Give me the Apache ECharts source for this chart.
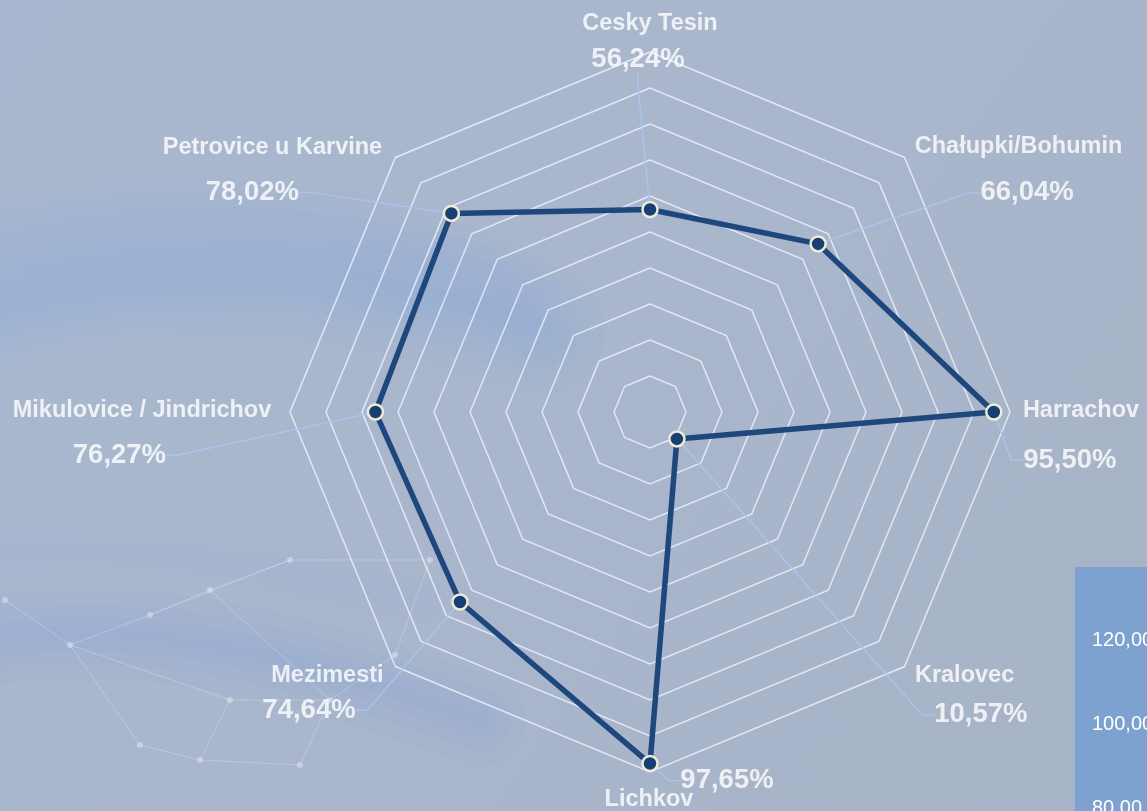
<!DOCTYPE html>
<html>
<head>
<meta charset="utf-8">
<script src="https://cdn.jsdelivr.net/npm/echarts@6/dist/echarts.min.js"></script>
<style>
  html, body { margin: 0; padding: 0; }
  #radar1 { width: 1147px; height: 811px; }
</style>
</head>
<body>
<div id="radar1"></div>
<script type="text/javascript">
var categories = ['Cesky Tesin', 'Chałupki/Bohumin', 'Harrachov', 'Kralovec', 'Lichkov', 'Mezimesti', 'Mikulovice / Jindrichov', 'Petrovice u Karvine'];
var values = [56.24, 66.04, 95.50, 10.57, 97.65, 74.64, 76.27, 78.02];
var maxValue = 100;
var sideTicks = ['120,00', '100,00', '80,00'];   // axis of the next chart, cut off at the right

// where the labels sit, in px, relative to their point (values) or outer corner (names)
var valueShift = [[-12, -150], [209, -51], [76, 48], [304, 276], [77, 17], [-151, 108], [-256, 43], [-199, -21]];
var nameShift = [[0, -28], [114, -11], [71, -1], [60, 9], [-1, 28], [-68, 9], [-148, -1], [-123, -10]];

// radar goes counter-clockwise, the picture goes clockwise
var radarOrder = [0, 7, 6, 5, 4, 3, 2, 1];
var center = [650, 412], radius = 360;
var font = '"Liberation Sans", Arial, sans-serif';

function pct(v) {
    return v.toFixed(2).replace('.', ',') + '%';
}

var myChart1 = echarts.init(document.getElementById('radar1'));

// background picture: soft blue swooshes + faint network
var bg = [
    { type: 'rect', z: -10, shape: { x: 0, y: 0, width: 1147, height: 811 },
      style: { fill: new echarts.graphic.LinearGradient(0, 0, 1, 1, [
          { offset: 0, color: '#a9b8d0' },
          { offset: 0.5, color: '#a9b6cb' },
          { offset: 1, color: '#a7b3c7' }
      ]) } }
];
function swoosh(shape, rgb, widths, alpha) {
    widths.forEach(function (w) {
        bg.push({ type: 'bezierCurve', z: -9, shape: shape,
            style: { stroke: 'rgba(' + rgb + ',' + alpha + ')', lineWidth: w, fill: null, lineCap: 'round' } });
    });
}
swoosh({ x1: -60, y1: 320, cpx1: 120, cpy1: 255, cpx2: 330, cpy2: 255, x2: 540, y2: 330 }, '120,155,225', [130, 100, 75, 55, 35, 18], 0.045);
swoosh({ x1: -60, y1: 250, cpx1: 200, cpy1: 190, cpx2: 380, cpy2: 220, x2: 520, y2: 290 }, '140,170,230', [80, 50, 25], 0.045);
swoosh({ x1: -60, y1: 650, cpx1: 120, cpy1: 610, cpx2: 280, cpy2: 650, x2: 480, y2: 720 }, '125,160,230', [90, 60, 35, 15], 0.05);
swoosh({ x1: -60, y1: 560, cpx1: 100, cpy1: 540, cpx2: 260, cpy2: 560, x2: 420, y2: 600 }, '150,180,235', [50, 25], 0.05);

var net = [[5, 600], [70, 645], [150, 615], [210, 590], [230, 700], [200, 760], [140, 745], [300, 765], [330, 700], [395, 655], [430, 560], [290, 560]];
var links = [[0, 1], [1, 2], [2, 3], [1, 4], [4, 5], [5, 6], [6, 1], [4, 8], [8, 9], [9, 10], [10, 11], [11, 3], [3, 8], [5, 7], [7, 8], [11, 2]];
links.forEach(function (l) {
    bg.push({ type: 'line', z: -9, shape: { x1: net[l[0]][0], y1: net[l[0]][1], x2: net[l[1]][0], y2: net[l[1]][1] },
        style: { stroke: 'rgba(230,238,252,0.3)', lineWidth: 1 } });
});
net.forEach(function (p) {
    bg.push({ type: 'circle', z: -9, shape: { cx: p[0], cy: p[1], r: 3 }, style: { fill: 'rgba(235,240,250,0.45)' } });
});
bg.push({ type: 'rect', z: -8, shape: { x: 1075, y: 567, width: 90, height: 260 }, style: { fill: '#7ea2d0' } });
sideTicks.forEach(function (t, i) {
    bg.push({ type: 'text', z: -7, x: 1092, y: 640 + i * 84,
        style: { text: t, fill: '#ffffff', font: '20px ' + font, textVerticalAlign: 'middle' } });
});

option1 = {
    animation: false,
    graphic: bg,
    radar: {
        center: center,
        radius: radius,
        startAngle: 90,
        splitNumber: 10,
        shape: 'polygon',
        indicator: radarOrder.map(function (i) { return { name: categories[i], min: 0, max: maxValue }; }),
        axisName: { show: false },
        axisLine: { show: false },
        axisTick: { show: false },
        axisLabel: { show: false },
        splitLine: { lineStyle: { color: 'rgba(238,244,255,0.8)', width: 1.5 } },
        splitArea: { show: false }
    },
    // hidden polar grid, same place as the radar, only to hang the labels on
    polar: { center: center, radius: radius },
    angleAxis: {
        type: 'category', data: categories, startAngle: 90, clockwise: true, boundaryGap: false,
        axisLine: { show: false }, axisTick: { show: false }, axisLabel: { show: false }, splitLine: { show: false }
    },
    radiusAxis: {
        type: 'value', min: 0, max: maxValue,
        axisLine: { show: false }, axisTick: { show: false }, axisLabel: { show: false }, splitLine: { show: false }
    },
    series: [
        {
            name: 'names',
            type: 'scatter',
            coordinateSystem: 'polar',
            silent: true,
            z: 1,
            symbolSize: 1,
            itemStyle: { color: 'rgba(0,0,0,0)' },
            data: categories.map(function (c) { return [maxValue, c]; }),
            label: {
                show: true, position: 'inside',
                formatter: function (p) { return categories[p.dataIndex]; },
                color: '#ffffff', fontSize: 23.5, fontWeight: 'bold', fontFamily: font
            },
            labelLayout: function (p) {
                return { dx: nameShift[p.dataIndex][0], dy: nameShift[p.dataIndex][1] };
            }
        },
        {
            name: 'values',
            type: 'scatter',
            coordinateSystem: 'polar',
            silent: true,
            z: 1,
            symbolSize: 1,
            itemStyle: { color: 'rgba(0,0,0,0)' },
            data: values.map(function (v, i) { return [v, categories[i]]; }),
            label: {
                show: true, position: 'inside',
                formatter: function (p) { return pct(values[p.dataIndex]); },
                color: '#ffffff', fontSize: 27.5, fontWeight: 'bold', fontFamily: font
            },
            labelLine: { show: true, length2: 12, lineStyle: { color: '#a8c6f0', width: 1.3 } },
            labelLayout: function (p) {
                return { dx: valueShift[p.dataIndex][0], dy: valueShift[p.dataIndex][1] };
            }
        },
        {
            name: 'Pokrytí',
            type: 'radar',
            z: 3,
            symbol: 'circle',
            symbolSize: 15,
            lineStyle: { color: '#1e477e', width: 5.5 },
            itemStyle: { color: '#173f74', borderColor: '#f0ebd7', borderWidth: 2.5 },
            data: [{ value: radarOrder.map(function (i) { return values[i]; }) }]
        }
    ]
};

myChart1.setOption(option1);
</script>
</body>
</html>
